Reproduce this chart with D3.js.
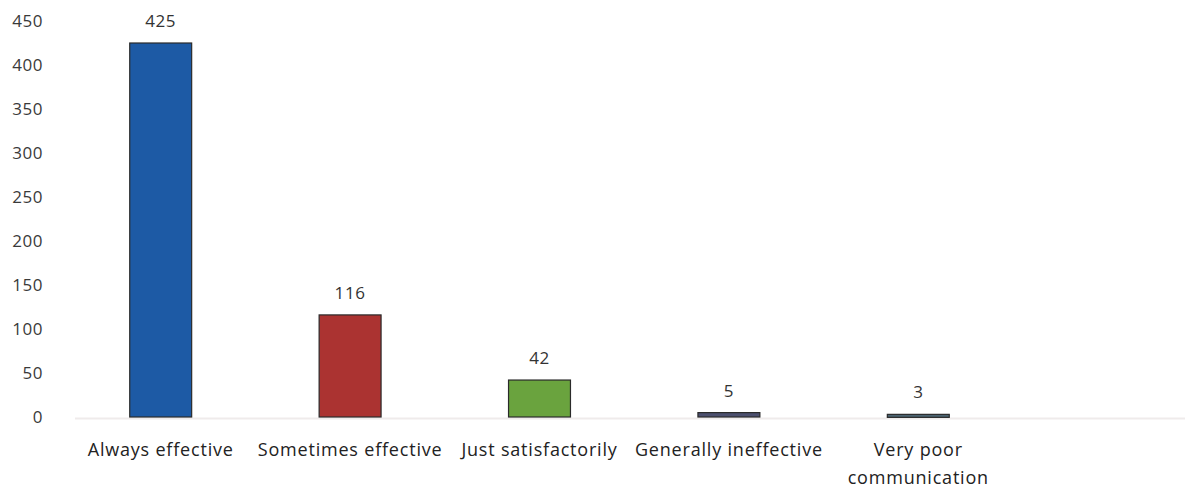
<!DOCTYPE html>
<html><head><meta charset="utf-8">
<script src="https://cdn.jsdelivr.net/npm/d3@7"></script>
<style>body{margin:0;background:#fff}svg{display:block}</style>
</head><body>
<script>
const categories = ["Always effective","Sometimes effective","Just satisfactorily","Generally ineffective","Very poor communication"];
const values = [425,116,42,5,3];
const colors = ["#1d5aa5","#ab3331","#6aa33e","#4b4f6e","#4b6370"];
const yTicks = [0,50,100,150,200,250,300,350,400,450];

const W=1195,H=495;
const svg=d3.select("body").append("svg").attr("width",W).attr("height",H);
const font="'Open Sans', sans-serif";
const x=d3.scaleBand().domain(categories).range([66,1013]).paddingInner(0.673).paddingOuter(0.3365);
const y=d3.scaleLinear().domain([0,450]).range([417,21]);

svg.append("line").attr("x1",75).attr("x2",1185).attr("y1",y(0)+1.5).attr("y2",y(0)+1.5)
  .attr("stroke","#efebeb").attr("stroke-width",2);

const yAxis=svg.append("g").attr("transform","translate(43,0)")
  .call(d3.axisLeft(y).tickValues(yTicks).tickSize(0).tickPadding(0));
yAxis.select(".domain").remove();
yAxis.selectAll("text").attr("font-family",font).attr("font-size",17).attr("fill","#3a3a3a")
  .attr("text-anchor","end").attr("letter-spacing",0.5);

svg.selectAll("rect.bar").data(values).join("rect").attr("class","bar")
  .attr("x",(d,i)=>x(categories[i])).attr("width",x.bandwidth())
  .attr("y",d=>y(d)).attr("height",d=>Math.max(3,y(0)-y(d)))
  .attr("fill",(d,i)=>colors[i]).attr("stroke","#2a2a2a").attr("stroke-width",1.2);

svg.selectAll("text.val").data(values).join("text").attr("class","val")
  .attr("x",(d,i)=>x(categories[i])+x.bandwidth()/2).attr("y",d=>y(d)-16)
  .attr("text-anchor","middle").attr("font-family",font).attr("font-size",17).attr("letter-spacing",0.6)
  .attr("fill","#333").text(d=>d);

const xAxis=svg.append("g").attr("transform",`translate(0,${y(0)})`)
  .call(d3.axisBottom(x).tickSize(0).tickPadding(0));
xAxis.select(".domain").remove();
xAxis.selectAll(".tick text").attr("font-family",font).attr("font-size",18).attr("fill","#222")
  .attr("letter-spacing",0.8).attr("dy",null).attr("y",0)
  .each(function(d){
    const t=d3.select(this); t.text(null);
    const lines = d==="Very poor communication" ? ["Very poor","communication"] : [d];
    lines.forEach((l,i)=>t.append("tspan").attr("x",0).attr("y",39+i*28).text(l));
  });
</script>
</body></html>
